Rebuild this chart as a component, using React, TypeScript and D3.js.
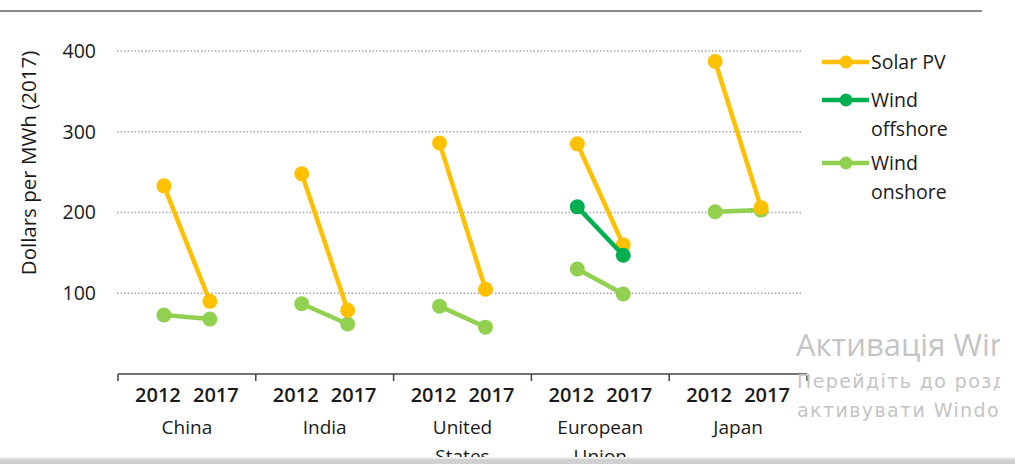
import React from "react";
import * as d3 from "d3";

const categories = ["China", "India", "United States", "European Union", "Japan"];
const categoryLines = [["China"], ["India"], ["United", "States"], ["European", "Union"], ["Japan"]];
const years = ["2012", "2017"];
const yTicks = [100, 200, 300, 400];

const solarPV = [[233, 90], [248, 79], [286, 105], [285, 160], [387, 206]];
const windOffshore: (number[] | null)[] = [null, null, null, [207, 147], null];
const windOnshore = [[73, 68], [87, 62], [84, 58], [130, 99], [201, 203]];

const seriesNames = [["Solar PV"], ["Wind", "offshore"], ["Wind", "onshore"]];
const seriesColors = ["#FFC000", "#00B050", "#92D050"];

const W = 1015;
const H = 464;
const FONT = "'Open Sans', 'Liberation Sans', sans-serif";
const WFONT = "'DejaVu Sans', sans-serif";

export default function App() {
  const x = d3.scaleBand<string>().domain(categories).range([118, 807]).padding(0);
  const xi = d3.scalePoint<string>().domain(years).range([0, x.bandwidth()]).padding(1);
  const xl = d3.scalePoint<string>().domain(years).range([0, x.bandwidth()]).padding(0.69);
  const y = d3.scaleLinear().domain([0, 400]).range([374, 51]);
  const line = d3
    .line<[string, number]>()
    .x((d) => xi(d[0]) as number)
    .y((d) => y(d[1]));

  const drawOrder = [
    { data: windOnshore, color: seriesColors[2] },
    { data: solarPV, color: seriesColors[0] },
    { data: windOffshore, color: seriesColors[1] },
  ];

  return (
    <svg width={W} height={H} style={{ position: "absolute", left: 0, top: 0, background: "#fff" }}>
      <defs>
        <clipPath id="wm">
          <rect x={0} y={0} width={1000} height={H} />
        </clipPath>
      </defs>
      <rect x={0} y={0} width={W} height={H} fill="#fff" />
      <line x1={0} x2={982} y1={11} y2={11} stroke="#8a8a8a" strokeWidth={2} />

      {yTicks.map((t) => (
        <g key={t}>
          <line x1={117} x2={802} y1={y(t)} y2={y(t)} stroke="#a6a6a6" strokeWidth={1.5} strokeDasharray="1.5 2" />
          <text x={96} y={y(t)} dy="0.35em" textAnchor="end" fontFamily={FONT} fontSize={19.5} fill="#1a1a1a">
            {t}
          </text>
        </g>
      ))}

      <text
        transform={`translate(29,${163}) rotate(-90)`}
        textAnchor="middle"
        dy="0.35em"
        fontFamily={FONT}
        fontSize={20.5}
        fill="#1a1a1a"
      >
        Dollars per MWh (2017)
      </text>

      <line x1={118} x2={807} y1={374} y2={374} stroke="#444" strokeWidth={1.5} />
      {categories.map((c) => (
        <line key={c} x1={x(c)} x2={x(c)} y1={374} y2={381} stroke="#444" strokeWidth={1.5} />
      ))}
      <line x1={807} x2={807} y1={374} y2={381} stroke="#444" strokeWidth={1.5} />
      {categories.map((c, i) => (
        <g key={c} transform={`translate(${x(c)},0)`}>
          {years.map((yr) => (
            <text
              key={yr}
              x={xl(yr)}
              y={402}
              textAnchor="middle"
              fontFamily={FONT}
              fontSize={20}
              fontWeight={600}
              fill="#1a1a1a"
            >
              {yr}
            </text>
          ))}
          {categoryLines[i].map((l, j) => (
            <text
              key={l}
              x={x.bandwidth() / 2}
              y={434 + j * 29}
              textAnchor="middle"
              fontFamily={FONT}
              fontSize={19}
              fill="#1a1a1a"
            >
              {l}
            </text>
          ))}
        </g>
      ))}

      {drawOrder.map((s, si) =>
        categories.map((c, ci) => {
          const v = s.data[ci];
          if (!v) return null;
          const pts: [string, number][] = years.map((yr, k) => [yr, v[k]]);
          return (
            <g key={`${si}-${c}`} transform={`translate(${x(c)},0)`}>
              <path d={line(pts) || ""} fill="none" stroke={s.color} strokeWidth={4.5} />
              {pts.map((p) => (
                <circle key={p[0]} cx={xi(p[0])} cy={y(p[1])} r={7.5} fill={s.color} />
              ))}
            </g>
          );
        })
      )}

      {seriesNames.map((names, i) => {
        const ly = [62, 100, 163][i];
        return (
          <g key={i}>
            <line x1={822} x2={869} y1={ly} y2={ly} stroke={seriesColors[i]} strokeWidth={4.5} />
            <circle cx={846} cy={ly} r={6.5} fill={seriesColors[i]} />
            {names.map((n, j) => (
              <text key={n} x={871} y={ly + j * 29.5} dy="0.35em" fontFamily={FONT} fontSize={19.5} fill="#1a1a1a">
                {n}
              </text>
            ))}
          </g>
        );
      })}

      <g clipPath="url(#wm)" fill="#c4c4c4">
        <text x={796} y={356} fontSize={31} fontFamily={FONT}>
          Активація Windows
        </text>
        <text x={797} y={388} fontSize={19} letterSpacing={1.4} fontFamily={WFONT}>
          Перейдіть до розділу "Настройки", щоб
        </text>
        <text x={797} y={417} fontSize={19} letterSpacing={1.4} fontFamily={WFONT}>
          активувати Windows.
        </text>
      </g>

      <rect x={0} y={457} width={W} height={2} fill="#ececec" />
      <rect x={0} y={459} width={W} height={5} fill="#d0d0d0" />
    </svg>
  );
}
